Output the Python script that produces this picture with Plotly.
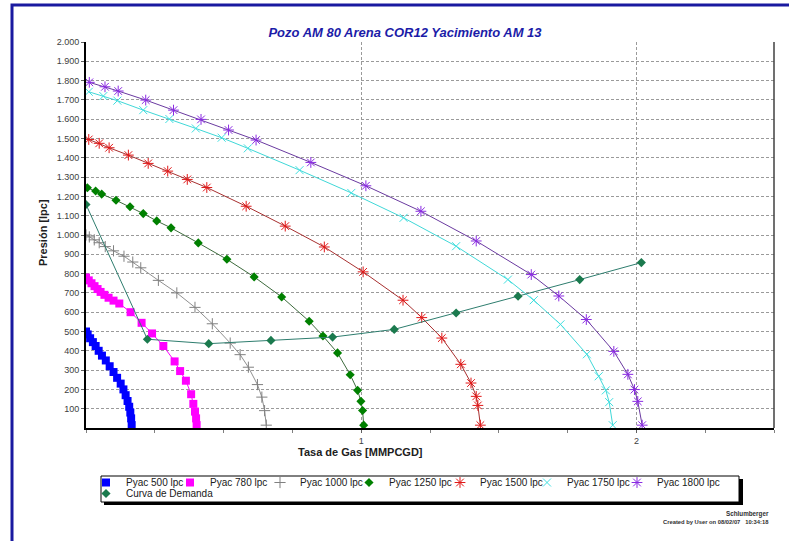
import plotly.graph_objects as go

# ---- data ----
q500 = [0, 0.006, 0.015, 0.025, 0.035, 0.046, 0.058, 0.072, 0.086, 0.1, 0.113, 0.126, 0.136, 0.144, 0.151, 0.157, 0.161, 0.164, 0.166]
p500 = [500, 485, 465, 445, 425, 400, 375, 350, 320, 290, 260, 230, 200, 170, 140, 110, 80, 50, 14.7]

q780 = [0, 0.01, 0.02, 0.031, 0.042, 0.053, 0.067, 0.082, 0.1, 0.121, 0.162, 0.202, 0.24, 0.281, 0.322, 0.342, 0.363, 0.382, 0.39, 0.396, 0.4, 0.402]
p780 = [780, 765, 750, 735, 720, 705, 690, 675, 660, 645, 600, 545, 490, 425, 345, 295, 245, 175, 125, 85, 50, 14.7]

q1000 = [0, 0.012, 0.03, 0.048, 0.07, 0.1, 0.138, 0.17, 0.199, 0.263, 0.33, 0.396, 0.459, 0.524, 0.56, 0.59, 0.623, 0.639, 0.649, 0.655]
p1000 = [1000, 990, 975, 960, 940, 918, 890, 860, 830, 765, 700, 625, 540, 440, 380, 315, 225, 160, 90, 14.7]

q1250 = [0.005, 0.035, 0.057, 0.109, 0.16, 0.208, 0.257, 0.309, 0.408, 0.512, 0.611, 0.711, 0.811, 0.861, 0.914, 0.96, 0.987, 0.999, 1.005, 1.009]
p1250 = [1245, 1228, 1212, 1180, 1146, 1111, 1073, 1037, 959, 874, 783, 679, 553, 477, 389, 276, 195, 138, 91, 14.7]

q1500 = [0.01, 0.048, 0.084, 0.154, 0.226, 0.297, 0.368, 0.439, 0.582, 0.724, 0.866, 1.007, 1.152, 1.22, 1.293, 1.362, 1.399, 1.418, 1.424, 1.433]
p1500 = [1495, 1475, 1452, 1414, 1371, 1331, 1288, 1246, 1149, 1046, 938, 809, 662, 572, 466, 330, 233, 164, 117, 14.7]

q1750 = [0.01, 0.063, 0.114, 0.208, 0.303, 0.399, 0.493, 0.588, 0.776, 0.964, 1.154, 1.345, 1.533, 1.627, 1.724, 1.82, 1.863, 1.889, 1.901, 1.914]
p1750 = [1742, 1720, 1696, 1647, 1601, 1552, 1504, 1449, 1336, 1218, 1089, 942, 769, 662, 537, 382, 268, 195, 134, 14.7]

q1800 = [0.012, 0.069, 0.117, 0.217, 0.318, 0.418, 0.518, 0.618, 0.817, 1.017, 1.217, 1.418, 1.618, 1.718, 1.818, 1.918, 1.969, 1.993, 2.005, 2.021]
p1800 = [1791, 1768, 1746, 1699, 1647, 1599, 1544, 1492, 1376, 1255, 1123, 969, 795, 684, 562, 397, 278, 199, 138, 14.7]

q_dem = [0, 0.223, 0.446, 0.672, 0.896, 1.12, 1.345, 1.57, 1.794, 2.018]
p_dem = [1158, 460, 437, 454, 471, 511, 596, 683, 769, 857]

y_tick_vals = [100, 200, 300, 400, 500, 600, 700, 800, 900, 1000,
               1100, 1200, 1300, 1400, 1500, 1600, 1700, 1800, 1900, 2000]
y_tick_text = ["100", "200", "300", "400", "500", "600", "700", "800", "900", "1.000",
               "1.100", "1.200", "1.300", "1.400", "1.500", "1.600", "1.700", "1.800", "1.900", "2.000"]
x_tick_vals = [1, 2]
x_tick_text = ["1", "2"]

W, H = 789, 541
L, R, T, B = 86, 15, 42, 113
PW, PH = W - L - R, H - T - B


def px(xp):
    return (xp - L) / PW


def py(yp):
    return (H - B - yp) / PH


series = [
    ("Pyac 500 lpc", q500, p500, "#0000ff", "#0000ff", "square", 8, 0),
    ("Pyac 780 lpc", q780, p780, "#ff00ff", "#ff00ff", "square", 8, 0),
    ("Pyac 1000 lpc", q1000, p1000, "#808080", "#909090", "cross-thin-open", 8, 1),
    ("Pyac 1250 lpc", q1250, p1250, "#008000", "#3d6b3d", "diamond", 7, 0),
    ("Pyac 1500 lpc", q1500, p1500, "#e01818", "#a83030", "asterisk-open", 9, 1),
    ("Pyac 1750 lpc", q1750, p1750, "#40e0e0", "#40d8d8", "x-thin-open", 8, 1),
    ("Pyac 1800 lpc", q1800, p1800, "#8a2be2", "#6a3aa0", "asterisk-open", 9, 1),
    ("Curva de Demanda", q_dem, p_dem, "#1b7a4e", "#2e7d6e", "diamond", 7, 0),
]

# legend item origin (x px) and row top (y px)
leg_item_x = [86, 170, 260, 349, 440, 527, 617, 86]
leg_row_y = [468, 468, 468, 468, 468, 468, 468, 479]

fig = go.Figure()
legends = {}
for i, (name, qx, py_, mcol, lcol, sym, size, open_) in enumerate(series):
    lname = "legend" if i == 0 else f"legend{i + 1}"
    marker = dict(symbol=sym, size=size, color=mcol)
    if open_:
        marker["line"] = dict(color=mcol, width=1)
    fig.add_trace(go.Scatter(x=qx, y=py_, name=name, mode="lines", showlegend=False,
                             legendgroup=name, legend=lname, hoverinfo="skip",
                             line=dict(color=lcol, width=1)))
    fig.add_trace(go.Scatter(x=qx, y=py_, name=name, mode="markers", legend=lname,
                             legendgroup=name, marker=marker))
    legends[lname] = dict(orientation="h", xref="container", yref="container",
                          x=leg_item_x[i] / W, y=1 - leg_row_y[i] / H,
                          xanchor="left", yanchor="top", bgcolor="rgba(0,0,0,0)", borderwidth=0,
                          itemwidth=30,
                          font=dict(family="Arial, Liberation Sans", size=10, color="#202020"))

grid = "#9a9a9a"
fig.update_xaxes(range=[0, 2.5], tickvals=x_tick_vals, ticktext=x_tick_text,
                 showgrid=True, gridcolor=grid, griddash="3px,2px", gridwidth=1,
                 ticks="outside", ticklen=3, tickcolor="#606060",
                 minor=dict(dtick=0.25, tick0=0, ticks="outside", ticklen=3, tickcolor="#808080", showgrid=False),
                 showline=True, linecolor="black", linewidth=2, zeroline=False,
                 tickfont=dict(family="Arial, Liberation Sans", size=9, color="#404040"))
fig.update_yaxes(range=[0, 2000], tickvals=y_tick_vals, ticktext=y_tick_text,
                 showgrid=True, gridcolor=grid, griddash="3px,2px", gridwidth=1,
                 ticks="outside", ticklen=3, tickcolor="#606060",
                 showline=True, linecolor="black", linewidth=2, zeroline=False,
                 tickfont=dict(family="Arial, Liberation Sans", size=9, color="#404040"))

shapes = [
    # outer blue frame
    dict(type="rect", xref="paper", yref="paper", x0=px(12), x1=px(820), y0=py(560), y1=py(5),
         line=dict(color="#1a1aa0", width=3), layer="below"),
    # right border of plot area
    dict(type="line", xref="paper", yref="paper", x0=1, x1=1, y0=0, y1=1,
         line=dict(color="#404040", width=1.5)),
    # legend shadow and box
    dict(type="rect", xref="paper", yref="paper", x0=px(104), x1=px(743), y0=py(505), y1=py(479),
         line=dict(width=0), fillcolor="black", layer="above"),
    dict(type="rect", xref="paper", yref="paper", x0=px(101), x1=px(739), y0=py(502), y1=py(476),
         line=dict(color="black", width=1), fillcolor="white", layer="above"),
]

annotations = [
    dict(text="<b>Tasa de Gas [MMPCGD]</b>", xref="paper", yref="paper", x=px(360), y=py(452),
         xanchor="center", yanchor="middle",
         showarrow=False, font=dict(family="Arial, Liberation Sans", size=11, color="#202020")),
    dict(text="<b>Presión [lpc]</b>", xref="paper", yref="paper", x=px(43), y=py(233),
         xanchor="center", yanchor="middle",
         showarrow=False, textangle=-90, font=dict(family="Arial, Liberation Sans", size=11, color="#202020")),
    dict(text="<b>Schlumberger</b>", xref="paper", yref="paper", x=px(771), y=py(514),
         xanchor="right", yanchor="middle",
         showarrow=False, font=dict(family="Arial, Liberation Sans", size=6.3, color="#303030")),
    dict(text="<b>Created by User on 08/02/07   10:34:18</b>", xref="paper", yref="paper", x=px(771), y=py(522),
         xanchor="right", yanchor="middle",
         showarrow=False, font=dict(family="Arial, Liberation Sans", size=5.8, color="#303030")),
]

fig.update_layout(
    width=W, height=H, autosize=False,
    margin=dict(l=L, r=R, t=T, b=B, pad=0),
    paper_bgcolor="white", plot_bgcolor="white",
    title=dict(text="<b><i>Pozo AM 80 Arena COR12 Yacimiento AM 13</i></b>", x=405 / W, xanchor="center",
               xref="container", y=1 - 32 / H, yref="container", yanchor="middle",
               font=dict(family="Arial, Liberation Sans", size=13, color="#1c1ca8")),
    showlegend=True,
    shapes=shapes, annotations=annotations,
    **legends,
)

fig.write_html("out.html")
